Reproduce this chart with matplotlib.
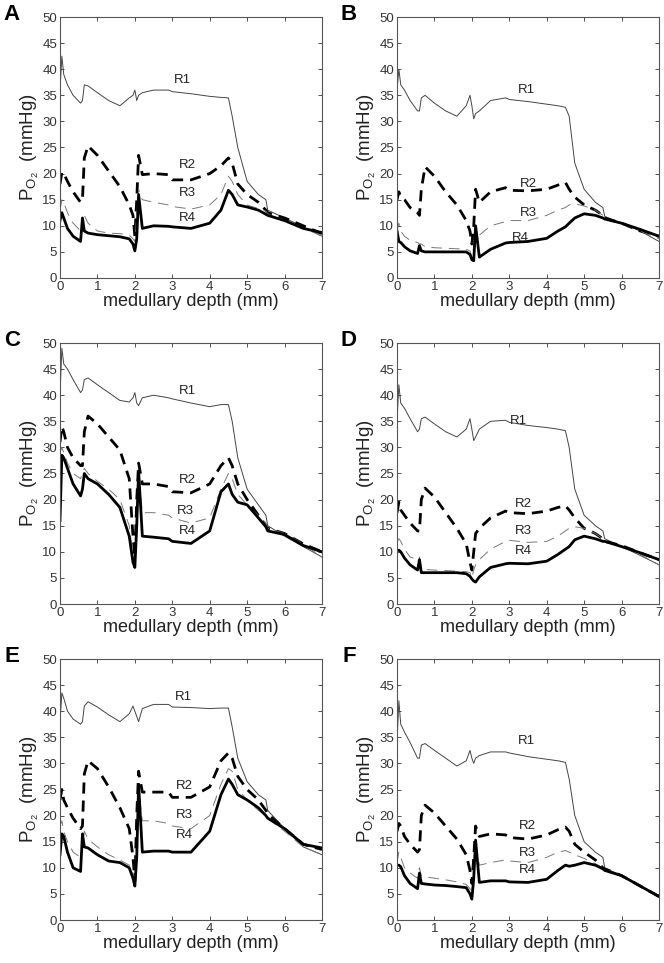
import matplotlib
matplotlib.use('Agg')
import matplotlib.pyplot as plt

plt.rcParams['font.family'] = ['Liberation Sans', 'DejaVu Sans']
plt.rcParams['mathtext.fontset'] = 'custom'
plt.rcParams['mathtext.rm'] = 'Liberation Sans'
plt.rcParams['mathtext.it'] = 'Liberation Sans'

# common depth grid (mm)
depth = [0.0, 0.05, 0.1, 0.2, 0.35, 0.55, 0.6, 0.65, 0.75, 1.0, 1.3, 1.6,
         1.85, 1.95, 2.0, 2.05, 2.1, 2.2, 2.5, 2.9, 3.0, 3.5, 4.0, 4.3,
         4.5, 4.6, 4.75, 5.0, 5.3, 5.5, 5.55, 6.0, 6.5, 7.0]

# panel A
a_r1 = [36, 42.5, 39, 37, 35, 33.5, 34, 37, 36.8, 35.5, 34, 33, 34.5, 35, 36, 34, 35,
        35.5, 36, 36, 35.7, 35.3, 34.8, 34.6, 34.5, 31, 25, 18.5, 16, 15, 13, 11.5, 9.8, 8]
a_r2 = [18, 20.3, 20, 18.5, 16.5, 14.5, 15, 23, 25.3, 23.5, 20.5, 17.5, 14, 12, 8, 15, 23.5,
        19.8, 20, 19.8, 18.8, 18.8, 20, 21.5, 23, 22, 18, 16, 14.5, 13, 12.5, 11.5, 10, 8.5]
a_r3 = [13, 15, 14.5, 12.5, 10.5, 9, 8.5, 12, 10.5, 9, 8.6, 8.5, 8.2, 7.5, 7, 12, 17,
        15, 14.5, 14, 13.7, 13.2, 14, 16, 19.5, 18.5, 16, 14, 13.3, 12.8, 12.3, 11, 9.6, 8]
a_r4 = [11, 12.5, 11.5, 9.5, 8, 7, 11.5, 9, 8.6, 8.3, 8.1, 7.9, 7.5, 6.5, 5.2, 7.5, 16,
        9.5, 10, 9.9, 9.8, 9.5, 10.5, 13, 16.8, 16, 14, 13.6, 13, 12.2, 12, 11, 9.5, 8.7]

# panel B
b_r1 = [36, 40, 37, 36, 34, 32, 32, 34.5, 35, 33.5, 32, 31, 33, 35, 33, 30.5, 31.5,
        32, 34, 34.5, 34.2, 33.8, 33.3, 33, 32.7, 31, 22, 17, 14.5, 13.5, 11.8, 10.5, 9, 7]
b_r2 = [15, 16.5, 15.5, 15, 13.5, 12.5, 12, 17, 21.3, 19.5, 16.5, 14, 11, 9, 6.5, 10, 17,
        14.5, 16.5, 17.3, 16.8, 16.7, 17, 17.8, 18.3, 17, 15.5, 14, 13, 12, 11.5, 10.5, 9, 8]
b_r3 = [9, 10.5, 9, 8, 7.2, 6.8, 6.5, 6.5, 6, 5.8, 5.7, 5.6, 5.5, 5.2, 4, 6, 10,
        8.2, 10, 10.8, 11, 11, 12, 13, 13.5, 14, 14.2, 13.8, 13, 12, 11.5, 10.5, 9, 7.5]
b_r4 = [9, 7, 6.8, 6, 5.2, 4.7, 6.2, 5.2, 5, 5, 5, 5, 5, 4.5, 3.5, 3.3, 10,
        4, 5.5, 6.7, 6.8, 7, 7.6, 9, 9.8, 10.5, 11.5, 12.3, 12, 11.5, 11.3, 10.5, 9.3, 8]

# panel C
c_r1 = [40, 49, 46, 45, 43, 40.5, 41, 43, 43.3, 42, 40.5, 39, 38.7, 39.5, 40.5, 38.5, 38,
        39.5, 40, 39.5, 39.3, 38.5, 37.8, 38.2, 38.2, 35, 28, 22, 19, 17, 15, 13, 11, 9]
c_r2 = [31, 34, 33, 30, 28, 26.5, 26.5, 33, 36, 34.5, 32, 29.5, 24, 13, 9, 20, 27,
        23, 23, 22.5, 21.5, 21.3, 23, 26.5, 28, 26.5, 23, 20, 17, 15, 14.5, 13.5, 11.5, 10]
c_r3 = [29, 30, 29, 27, 25, 24, 25, 26, 25, 23.5, 22, 20, 15, 9, 8, 17, 25,
        17.5, 17.5, 17, 16.5, 15.5, 16.5, 22, 25, 24, 21, 19, 17, 15.5, 14.5, 13.5, 11.5, 9]
c_r4 = [16, 28.5, 28, 26, 23, 20.7, 22, 25, 24, 23, 21, 18.5, 13, 8, 7, 15, 25.5,
        13, 12.8, 12.5, 12, 11.6, 14, 21.5, 23, 21, 19.5, 19, 16.5, 14.8, 14, 13.3, 11.2, 10]

# panel D
d_r1 = [35, 42, 38.5, 37.5, 35.5, 33, 33.5, 35.5, 35.8, 34.5, 33, 32, 33.5, 35.5, 33.5, 31.3, 32,
        33.5, 35, 35.2, 34.8, 34.2, 33.8, 33.5, 33.2, 30, 22, 17, 15, 14, 12.5, 11, 9.3, 7.5]
d_r2 = [17.5, 19.5, 18, 17, 15.5, 14, 14, 20, 22.2, 20.5, 17.5, 14.5, 11.5, 8, 6.5, 10, 13.5,
        14.5, 16.5, 17.8, 17.5, 17.3, 17.8, 18.5, 18.8, 18, 16.5, 14.5, 13.5, 12.5, 12, 11.2, 9.8, 8.5]
d_r3 = [12, 12.5, 12, 10.5, 9, 8.5, 9, 7, 6.6, 6.5, 6.4, 6.3, 6.2, 6, 5, 6.5, 7.5,
        8.5, 10.5, 12, 12.2, 11.8, 12, 13, 14, 14.5, 14.8, 14.5, 13.5, 12.5, 12, 11, 9.5, 7.5]
d_r4 = [10.2, 10.3, 10, 8.8, 7.5, 6.5, 8.5, 6, 6, 6, 6, 6, 5.8, 5.3, 4.8, 4.4, 4.2,
        5.2, 7, 7.7, 7.8, 7.7, 8.2, 9.5, 10.5, 11, 12.3, 13, 12.5, 12, 12, 11, 9.8, 8.5]

# panel E
e_r1 = [38, 43.5, 42.5, 40, 38.5, 37.5, 38, 41, 41.8, 40.8, 39.3, 38, 39.5, 41, 40, 39, 38,
        40.5, 41.3, 41.3, 40.8, 40.7, 40.5, 40.6, 40.6, 37, 31, 26.5, 24, 23, 21, 17.5, 14, 12.5]
e_r2 = [23, 25, 23, 21.5, 19.5, 17.5, 18, 28, 30.5, 29, 25.5, 21.5, 17.5, 12, 7.5, 20, 28.5,
        24.5, 24.5, 24.5, 23.5, 23.5, 25.5, 30.5, 32, 31, 27.5, 25, 23, 21, 20.3, 17.5, 14.5, 13.5]
e_r3 = [18, 19, 17, 15, 13, 12, 14, 17, 15.5, 14, 12.5, 11.5, 10.5, 9, 8, 15, 25,
        19, 19, 18.5, 18, 17.5, 20, 26, 29, 28.5, 25, 23, 21, 20, 19.5, 17, 14, 12.5]
e_r4 = [12.5, 16.5, 16, 13, 10, 9.3, 16.5, 14, 13.8, 12.5, 11.3, 11, 10, 8, 6.5, 12, 26,
        13, 13.2, 13.2, 13, 13, 17, 24, 27, 26, 24, 23, 21.5, 20, 19.5, 17.5, 14.5, 13.8]

# panel F
f_r1 = [34, 42, 37.5, 36, 34, 31, 31, 33.5, 33.8, 32.5, 31, 29.5, 30.5, 32.5, 31, 30, 31,
        31.5, 32.2, 32.2, 32, 31.3, 30.8, 30.5, 30.2, 27, 20, 15, 13, 12, 10, 8.5, 6.5, 4.5]
f_r2 = [17, 18.5, 18, 16, 14.5, 13, 13.5, 20, 22, 20.5, 18, 15.5, 12.5, 9.5, 7, 12, 18,
        16, 16.5, 16.3, 15.8, 15.5, 16.3, 17.3, 17.8, 17, 14.5, 13, 11.5, 10, 9.8, 8.5, 6.5, 4.5]
f_r3 = [11, 13, 12, 10, 9, 8, 10, 8.5, 8.3, 8, 7.7, 7.3, 6.8, 6, 5, 9, 15,
        10.5, 11, 11.5, 11.3, 11, 12, 13, 13.3, 13, 12.5, 11.8, 10.8, 10, 9.8, 8.5, 6.5, 4.5]
f_r4 = [10.5, 10.5, 10.2, 8.5, 7, 6, 9, 7, 6.9, 6.7, 6.6, 6.4, 6.2, 5, 4, 8, 15.3,
        7.2, 7.5, 7.5, 7.3, 7.2, 7.8, 9.5, 10.5, 10.3, 10.5, 11, 10.5, 9.8, 9.5, 8.5, 6.5, 4.5]

panel_letters = ['A', 'B', 'C', 'D', 'E', 'F']
series_labels = ['R1', 'R2', 'R3', 'R4']

# label anchor positions (depth, PO2) for R1..R4 in each panel
label_pos = {
    'A': [(3.27, 37.9), (3.4, 21.6), (3.4, 16.2), (3.4, 11.4)],
    'B': [(3.47, 36.0), (3.52, 18.1), (3.52, 12.5), (3.3, 7.7)],
    'C': [(3.4, 40.8), (3.4, 23.8), (3.36, 17.8), (3.4, 13.9)],
    'D': [(3.25, 35.1), (3.38, 19.2), (3.38, 13.9), (3.38, 10.1)],
    'E': [(3.31, 42.8), (3.31, 25.7), (3.31, 20.1), (3.31, 16.3)],
    'F': [(3.47, 34.2), (3.47, 18.1), (3.47, 12.8), (3.47, 9.6)],
}

panels = {
    'A': (a_r1, a_r2, a_r3, a_r4),
    'B': (b_r1, b_r2, b_r3, b_r4),
    'C': (c_r1, c_r2, c_r3, c_r4),
    'D': (d_r1, d_r2, d_r3, d_r4),
    'E': (e_r1, e_r2, e_r3, e_r4),
    'F': (f_r1, f_r2, f_r3, f_r4),
}

W, H = 664, 963
fig = plt.figure(figsize=(W / 100, H / 100), dpi=100)

lefts = [60, 397]
tops = [17, 343, 659]
aw, ah = 262, 261

styles = [
    dict(color='#444444', lw=0.7, ls='-'),
    dict(color='black', lw=2.0, ls=(0, (4, 2.5))),
    dict(color='#777777', lw=0.7, ls=(0, (11, 7))),
    dict(color='black', lw=2.0, ls='-'),
]

for i, letter in enumerate(panel_letters):
    col, row = i % 2, i // 2
    x0, y0 = lefts[col], tops[row]
    ax = fig.add_axes([x0 / W, 1 - (y0 + ah) / H, aw / W, ah / H])
    for vals, st in zip(panels[letter], styles):
        ax.plot(depth, vals, **st)
    for lab, (lx, ly) in zip(series_labels, label_pos[letter]):
        ax.text(lx, ly, lab, fontsize=9.5, ha='center', va='center', color='#222222')
    ax.set_xlim(0, 7)
    ax.set_ylim(0, 50)
    ax.set_xticks(range(0, 8))
    ax.set_yticks(range(0, 51, 5))
    ax.tick_params(direction='in', top=True, right=True, length=3, width=0.6,
                   labelsize=9.5, colors='#333333', pad=2)
    for sp in ax.spines.values():
        sp.set_color('#555555')
        sp.set_linewidth(0.8)
    ax.set_xlabel('medullary depth (mm)', fontsize=13, labelpad=0, color='#222222')
    ax.set_ylabel(r'P$_{\mathrm{O}_2}$  (mmHg)', fontsize=13.5, labelpad=1, color='#222222')
    fig.text((x0 - 48) / W, 1 - (y0 - 3) / H, letter, fontsize=16, fontweight='bold',
             ha='center', va='center')

fig.savefig('out.png', dpi=100)
